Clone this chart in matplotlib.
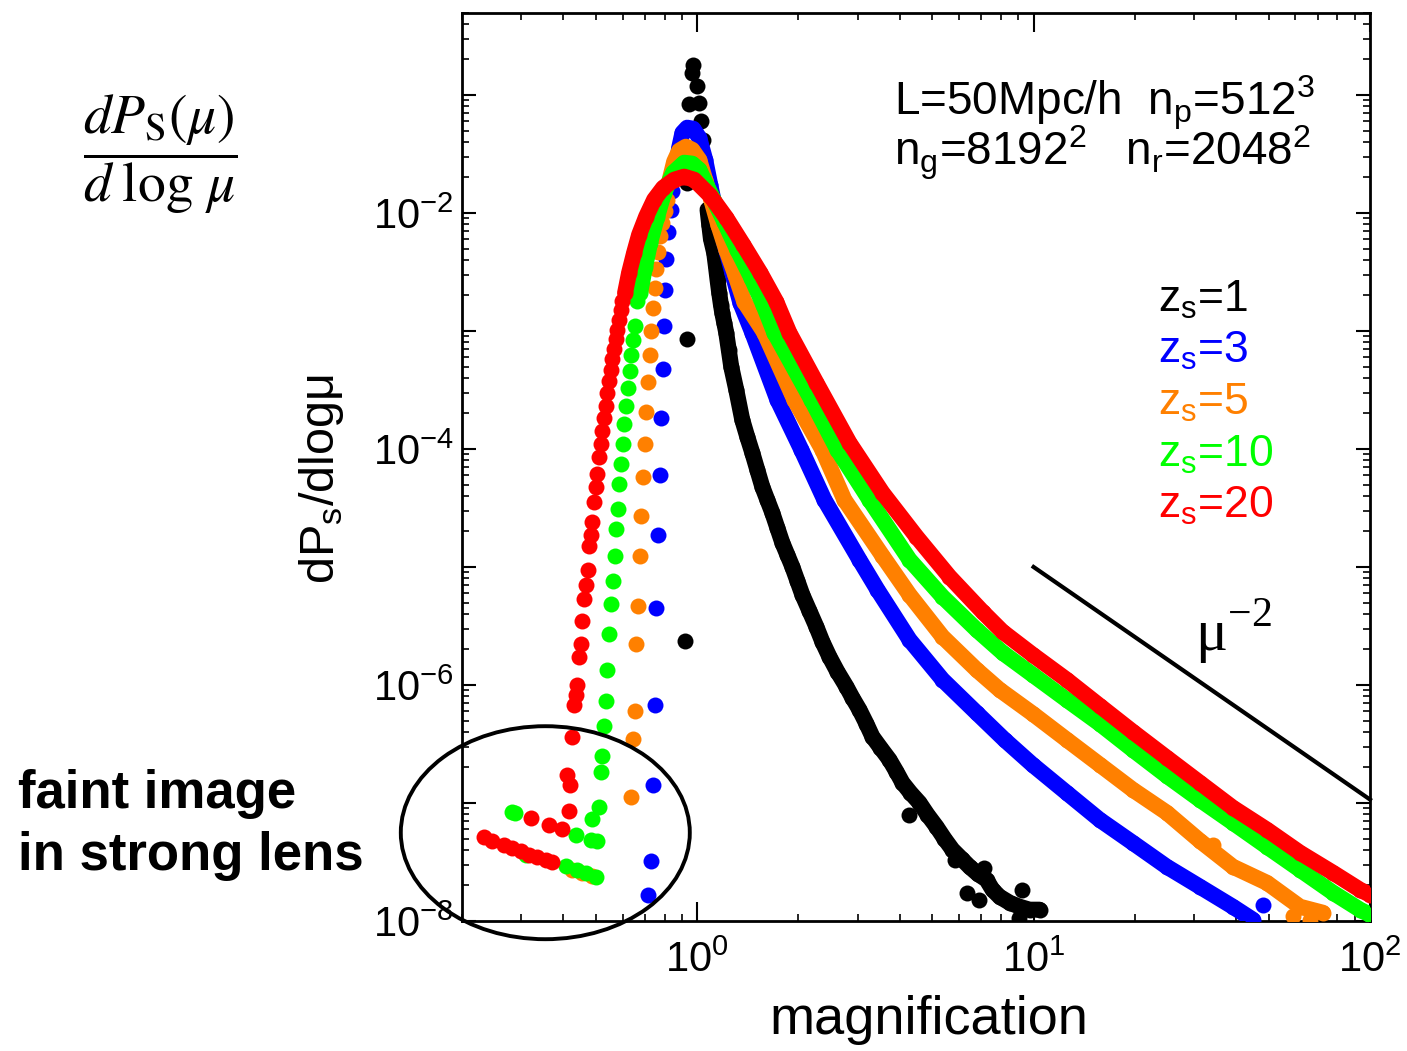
import numpy as np
import matplotlib
matplotlib.use("Agg")
import matplotlib.pyplot as plt
from matplotlib.patches import Ellipse
from matplotlib.ticker import FixedLocator, FuncFormatter, NullFormatter

plt.rcParams['font.family'] = ['Liberation Sans', 'DejaVu Sans']

# values, as log10(mu) and log10(dPs/dlogmu)
# *_band = dense part of the curve, *_dots = separate points

# z_s = 1
z1_band_lmu = [0.0307, 0.0357, 0.0408, 0.0506, 0.0557, 0.0604, 0.0655, 0.0705, 0.0744, 0.0804,
               0.0863, 0.0938, 0.1012, 0.1161, 0.1339, 0.1488, 0.1637, 0.1786, 0.1935, 0.2083,
               0.2232, 0.2381, 0.2530, 0.2679, 0.2827, 0.2976, 0.3125, 0.3333, 0.3542, 0.3720,
               0.3929, 0.4167, 0.4435, 0.4613, 0.4821, 0.5030, 0.5208, 0.5446, 0.5714, 0.5923,
               0.6101, 0.6339, 0.6607, 0.6845, 0.7113, 0.7351, 0.7589, 0.7857, 0.8095, 0.8333,
               0.8601, 0.8780, 0.8988, 0.9286, 0.9583, 0.9881, 1.0179]
z1_band_lp = [-1.972, -2.099, -2.220, -2.339, -2.453, -2.565, -2.678, -2.777, -2.845, -2.930,
              -3.014, -3.159, -3.303, -3.498, -3.752, -3.896, -4.031, -4.176, -4.320, -4.430,
              -4.540, -4.667, -4.794, -4.896, -4.998, -5.116, -5.235, -5.370, -5.506, -5.633,
              -5.760, -5.887, -6.014, -6.108, -6.209, -6.328, -6.438, -6.531, -6.633, -6.735,
              -6.828, -6.913, -6.998, -7.099, -7.201, -7.303, -7.396, -7.472, -7.540, -7.599,
              -7.650, -7.735, -7.794, -7.845, -7.879, -7.904, -7.904]
z1_dots_lmu = [-0.0357, -0.0298, -0.0289, -0.0238, -0.0140, -0.0110, -0.0009, 0.0060, 0.0110,
               0.0158, 0.0208, 0.0253, 0.631, 0.8006, 0.839, 0.967, 0.958, 0.765, 0.854]
z1_dots_lp = [-5.625, -3.065, -1.746, -1.078, -0.811, -0.743, -0.927, -1.068, -1.224,
              -1.379, -1.548, -1.760, -7.099, -7.760, -7.820, -7.735, -7.972, -7.481, -7.548]

# z_s = 3
z3_band_lmu = [-0.0655, -0.0536, -0.0438, -0.0298, -0.0119, 0.0060, 0.0238, 0.0387, 0.0565,
               0.0804, 0.1042, 0.1280, 0.1637, 0.2381, 0.3095, 0.3780, 0.4821, 0.5357, 0.6310,
               0.7292, 0.8304, 0.9137, 0.9970, 1.0982, 1.1964, 1.2946, 1.3958, 1.4940, 1.5923,
               1.6518]
z3_band_lp = [-1.701, -1.447, -1.320, -1.277, -1.286, -1.362, -1.548, -1.760, -1.998,
              -2.252, -2.506, -2.760, -3.014, -3.582, -4.006, -4.430, -4.938, -5.192, -5.616,
              -5.955, -6.235, -6.464, -6.676, -6.913, -7.142, -7.337, -7.540, -7.709, -7.879,
              -7.989]
z3_dots_lmu = [-0.1449, -0.1360, -0.1310, -0.1259, -0.1211, -0.1161, -0.1110, -0.1063, -0.1012,
               -0.0973, -0.0952, -0.0914, -0.0854, -0.0783, -0.0735, 1.6815]
z3_dots_lp = [-7.777, -7.495, -6.845, -6.173, -5.348, -4.729, -4.218, -3.735, -3.322,
              -2.961, -2.656, -2.387, -2.164, -1.972, -1.817, -7.862]

# z_s = 5
z5_band_lmu = [-0.0833, -0.0685, -0.0536, -0.0336, -0.0149, 0.0060, 0.0238, 0.0417, 0.0625,
               0.0863, 0.1131, 0.1399, 0.1994, 0.2887, 0.3720, 0.4375, 0.5506, 0.6310, 0.7292,
               0.8304, 0.8988, 0.9970, 1.0982, 1.1964, 1.2946, 1.3958, 1.4940, 1.5923, 1.6935,
               1.7917, 1.8601]
z5_band_lp = [-1.735, -1.565, -1.472, -1.438, -1.464, -1.548, -1.718, -1.887, -2.099,
              -2.311, -2.523, -2.752, -3.014, -3.582, -4.006, -4.430, -4.905, -5.235, -5.591,
              -5.870, -6.040, -6.243, -6.463, -6.675, -6.887, -7.082, -7.320, -7.540, -7.676,
              -7.879, -7.930]
z5_dots_lmu = [-0.1973, -0.1905, -0.1854, -0.1807, -0.1756, -0.1705, -0.1658, -0.1607, -0.1557,
               -0.1509, -0.1458, -0.1408, -0.1360, -0.1310, -0.1259, -0.1211, -0.1161, -0.1101,
               -0.1033, -0.0952, -0.0884, -0.372, -0.342, -0.3125, 1.7708, 1.8214, 1.5327]
z5_dots_lp = [-6.949, -6.458, -6.224, -5.653, -5.328, -4.910, -4.571, -4.241, -3.955,
              -3.687, -3.436, -3.207, -2.998, -2.805, -2.636, -2.475, -2.331, -2.198,
              -2.085, -1.987, -1.887, -7.565, -7.591, -7.616, -7.955, -7.989, -7.354]

# z_s = 10
z10_band_lmu = [-0.1696, -0.1548, -0.1399, -0.1190, -0.0982, -0.0714, -0.0387, -0.0149, 0.0060,
                0.0417, 0.0804, 0.1190, 0.1607, 0.1964, 0.2292, 0.3393, 0.4167, 0.5119, 0.6310,
                0.7292, 0.8304, 0.9077, 0.9970, 1.0982, 1.1964, 1.2946, 1.3958, 1.4940, 1.5923,
                1.6935, 1.7917, 1.8899, 1.9702, 2.0000]
z10_band_lp = [-2.676, -2.455, -2.252, -2.031, -1.828, -1.659, -1.574, -1.582, -1.633,
               -1.845, -2.074, -2.311, -2.548, -2.777, -3.014, -3.582, -4.006, -4.430, -4.938,
               -5.252, -5.531, -5.726, -5.913, -6.125, -6.328, -6.548, -6.769, -6.972, -7.167,
               -7.370, -7.565, -7.760, -7.904, -7.947]
z10_dots_lmu = [-0.1777, -0.1860, -0.1905, -0.1955, -0.2003, -0.2063, -0.2113, -0.2164, -0.2211,
                -0.2262, -0.2313, -0.2360, -0.2411, -0.2449, -0.2500, -0.2551, -0.2619, -0.2670,
                -0.2717, -0.2759, -0.2818, -0.2866, -0.2917, -0.3116, -0.2967, -0.3164, -0.3610,
                -0.5417, -0.5497, -0.3908, -0.3562, -0.3313, -0.3015, -0.5098]
z10_dots_lp = [-2.749, -2.955, -3.074, -3.207, -3.337, -3.483, -3.633, -3.786, -3.958,
               -4.127, -4.297, -4.506, -4.678, -4.910, -5.122, -5.311, -5.565, -5.870,
               -6.133, -6.351, -6.605, -6.737, -7.034, -7.136, -7.326, -7.311, -7.269,
               -7.085, -7.080, -7.537, -7.571, -7.593, -7.631, -7.438]

# z_s = 20
z20_band_lmu = [-0.2143, -0.2024, -0.1875, -0.1726, -0.1518, -0.1280, -0.1012, -0.0685, -0.0387,
                -0.0089, 0.0387, 0.0863, 0.1369, 0.1875, 0.2351, 0.2738, 0.3542, 0.4524, 0.5506,
                0.6518, 0.7500, 0.8482, 0.9077, 0.9970, 1.0982, 1.1964, 1.2946, 1.3958, 1.4940,
                1.5923, 1.6935, 1.7917, 1.8899, 1.9702, 2.0000]
z20_band_lp = [-2.676, -2.506, -2.337, -2.184, -2.031, -1.887, -1.786, -1.718, -1.692,
               -1.718, -1.853, -2.040, -2.269, -2.506, -2.752, -3.014, -3.438, -3.947, -4.370,
               -4.743, -5.082, -5.379, -5.548, -5.743, -5.955, -6.176, -6.396, -6.616, -6.828,
               -7.040, -7.226, -7.421, -7.591, -7.735, -7.777]
z20_dots_lmu = [-0.2223, -0.2271, -0.2321, -0.2372, -0.2420, -0.2470, -0.2521, -0.2568, -0.2619,
                -0.2670, -0.2717, -0.2768, -0.2818, -0.2866, -0.2917, -0.2967, -0.3015, -0.3065,
                -0.3116, -0.3164, -0.3214, -0.3244, -0.3292, -0.3363, -0.3414, -0.3461, -0.3512,
                -0.3563, -0.3610, -0.3661, -0.3711, -0.3860, -0.3780, -0.3810, -0.4027, -0.4405,
                -0.4949, -0.6339, -0.6092, -0.5744, -0.5497, -0.5247, -0.5000, -0.4753, -0.4503,
                -0.4307]
z20_dots_lp = [-2.749, -2.820, -2.904, -2.989, -3.068, -3.153, -3.237, -3.328, -3.427,
               -3.526, -3.633, -3.737, -3.845, -3.955, -4.068, -4.209, -4.326, -4.449,
               -4.622, -4.726, -4.826, -5.029, -5.150, -5.271, -5.461, -5.653, -5.766,
               -5.998, -6.088, -6.167, -6.441, -6.760, -6.851, -7.065, -7.220, -7.184,
               -7.127, -7.288, -7.326, -7.353, -7.381, -7.410, -7.438, -7.458, -7.480,
               -7.500]

# mu^-2 guide
guide_mu = [10, 100]
guide_p = [1e-5, 1.07e-7]

series = [
    ('z$_\\mathregular{s}$=1', 'black', z1_band_lmu, z1_band_lp, z1_dots_lmu, z1_dots_lp),
    ('z$_\\mathregular{s}$=3', '#0000ff', z3_band_lmu, z3_band_lp, z3_dots_lmu, z3_dots_lp),
    ('z$_\\mathregular{s}$=5', '#ff8000', z5_band_lmu, z5_band_lp, z5_dots_lmu, z5_dots_lp),
    ('z$_\\mathregular{s}$=10', '#00ff00', z10_band_lmu, z10_band_lp, z10_dots_lmu, z10_dots_lp),
    ('z$_\\mathregular{s}$=20', '#ff0000', z20_band_lmu, z20_band_lp, z20_dots_lmu, z20_dots_lp),
]

fig = plt.figure(figsize=(14.07, 10.51), dpi=100)
ax = fig.add_axes([0.3284, 0.1237, 0.6453, 0.8644])

ms = 11.5
for k, (lab, col, bx, by, dx, dy) in enumerate(series):
    z = 2 + k
    ax.plot(10 ** np.array(bx), 10 ** np.array(by), '-', color=col, lw=ms,
            solid_capstyle='round', solid_joinstyle='round', zorder=z)
    ax.plot(10 ** np.array(bx), 10 ** np.array(by), 'o', color=col, ms=ms, mew=0, zorder=z)
    ax.plot(10 ** np.array(dx), 10 ** np.array(dy), 'o', color=col, ms=ms, mew=0, zorder=z)

ax.plot(guide_mu, guide_p, color='black', lw=3, zorder=7, clip_on=False)

ax.set_xscale('log')
ax.set_yscale('log')
ax.set_xlim(0.2, 100)
ax.set_ylim(1e-8, 0.5)

ax.yaxis.set_major_locator(FixedLocator([10.0 ** e for e in range(-8, 0)]))
ax.yaxis.set_major_formatter(FuncFormatter(
    lambda v, p: '10$^{\\mathregular{%d}}$' % round(np.log10(v)) if round(np.log10(v)) % 2 == 0 else ''))
ax.xaxis.set_major_locator(FixedLocator([1, 10, 100]))
ax.xaxis.set_major_formatter(FuncFormatter(lambda v, p: '10$^{\\mathregular{%d}}$' % round(np.log10(v))))
ax.xaxis.set_minor_locator(FixedLocator([m * 10.0 ** e for e in range(-1, 2) for m in range(2, 10)]))
ax.yaxis.set_minor_locator(FixedLocator([m * 10.0 ** e for e in range(-8, 0) for m in range(2, 10)]))
ax.xaxis.set_minor_formatter(NullFormatter())
ax.yaxis.set_minor_formatter(NullFormatter())

ax.tick_params(which='both', direction='in', top=True, right=True, labelsize=30)
ax.tick_params(axis='x', which='major', length=13.5, width=1.5, pad=14)
ax.tick_params(axis='y', which='major', length=10, width=1.5, pad=6)
ax.tick_params(which='minor', length=5, width=1.2)
for s in ax.spines.values():
    s.set_linewidth(2)

fig.text(929 / 1407, 1 - 1020 / 1051, 'magnification', fontsize=39, ha='center', va='center')
fig.text(322 / 1407, 1 - 479 / 1051, 'dP$_\\mathregular{s}$/dlogμ', fontsize=35,
         rotation=90, ha='center', va='center')

# box parameters as one two-line text
fig.text(894 / 1407, 1 - 166 / 1051,
         'L=50Mpc/h  n$_\\mathregular{p}$=512$^\\mathregular{3}$\n'
         'n$_\\mathregular{g}$=8192$^\\mathregular{2}$   n$_\\mathregular{r}$=2048$^\\mathregular{2}$',
         fontsize=33, va='baseline', linespacing=0.8)

leg_y = [312, 363, 415, 467, 518]
for (lab, col, *_), yy in zip(series, leg_y):
    fig.text(1158 / 1407, 1 - yy / 1051, lab, color=col, fontsize=32, va='baseline')

fig.text(1195 / 1407, 1 - 650 / 1051, 'μ$^{\\mathregular{-2}}$', fontsize=43,
         family='Liberation Serif', va='baseline')

fig.text(160 / 1407, 1 - 154 / 1051, r'$\dfrac{dP_{\mathrm{S}}(\mu)}{d\;\log\,\mu}$',
         fontsize=40, math_fontfamily='stix', ha='center', va='center')

fig.text(18 / 1407, 1 - 808 / 1051, 'faint image', fontsize=38, weight='bold', va='baseline')
fig.text(18 / 1407, 1 - 870 / 1051, 'in strong lens', fontsize=38, weight='bold', va='baseline')

fig.add_artist(Ellipse((545.3 / 1407, 1 - 832.7 / 1051), 289 / 1407, 213 / 1051,
                       transform=fig.transFigure, fill=False, ec='black', lw=2.8, zorder=10))

fig.savefig('out.png', dpi=100)
